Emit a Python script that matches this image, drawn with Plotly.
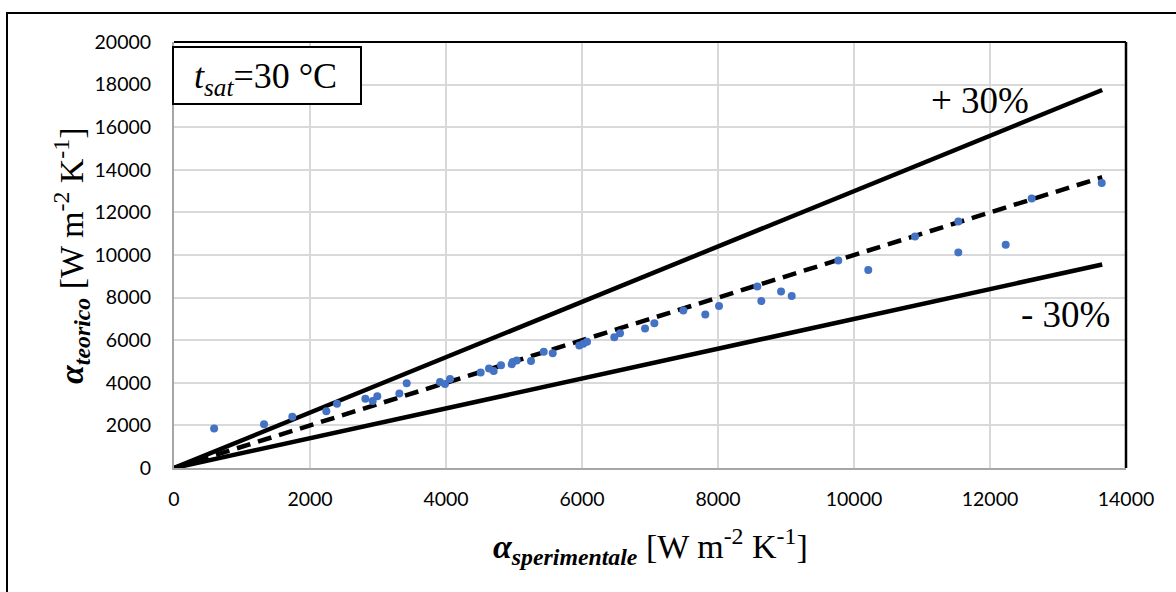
import plotly.graph_objects as go

# Experimental vs. predicted heat transfer coefficient, t_sat = 30 °C
alpha_exp = [590, 1324, 1740, 2240, 2397, 2814, 2922, 2990, 3314, 3422,
             3912, 3985, 4059, 4510, 4632, 4701, 4809, 4966, 4981, 5040,
             5250, 5437, 5569, 5960, 6019, 6074, 6475, 6559, 6927, 7064,
             7490, 7813, 8015, 8578, 8637, 8927, 9084, 9769, 10210, 10897,
             11534, 11534, 12231, 12613, 13643]
alpha_teo = [1850, 2054, 2411, 2664, 3022, 3257, 3149, 3370, 3492, 3980,
             4042, 3948, 4183, 4479, 4667, 4559, 4827, 4874, 4982, 5043,
             5029, 5452, 5391, 5748, 5828, 5922, 6143, 6331, 6547, 6801,
             7393, 7205, 7600, 8521, 7835, 8286, 8070, 9743, 9292, 10871,
             11576, 10119, 10481, 12657, 13381]

# Reference lines: perfect agreement and +/-30 % bands
ref_x = [0, 13650]
band_plus = 1.3
band_minus = 0.7

x_ticks = [0, 2000, 4000, 6000, 8000, 10000, 12000, 14000]
y_ticks = [0, 2000, 4000, 6000, 8000, 10000, 12000, 14000, 16000, 18000, 20000]

serif = "Liberation Serif, Times New Roman, serif"
sans = "Lato, Open Sans, sans-serif"

# plot area in pixels: left 174, right 1126, top 42, bottom 468
PL, PR, PT, PB = 174, 1126, 42, 468
PW, PH = PR - PL, PB - PT


def px_x(p):
    return (p - PL) / PW


def px_y(p):
    return (PB - p) / PH


fig = go.Figure()
fig.add_trace(go.Scatter(x=ref_x, y=[v * band_plus for v in ref_x], mode="lines",
                         line=dict(color="black", width=4.5), showlegend=False))
fig.add_trace(go.Scatter(x=ref_x, y=[v * band_minus for v in ref_x], mode="lines",
                         line=dict(color="black", width=4.5), showlegend=False))
fig.add_trace(go.Scatter(x=ref_x, y=ref_x, mode="lines",
                         line=dict(color="black", width=4.5, dash="14px,8px"), showlegend=False))
fig.add_trace(go.Scatter(x=alpha_exp, y=alpha_teo, mode="markers",
                         marker=dict(color="#4472C4", size=8), showlegend=False))

fig.update_layout(
    width=1176, height=592,
    margin=dict(l=PL, r=1176 - PR, t=PT, b=592 - PB),
    paper_bgcolor="white", plot_bgcolor="white",
    xaxis=dict(range=[0, 14000], tickvals=x_ticks, ticktext=[str(v) for v in x_ticks],
               showgrid=True, gridcolor="#D9D9D9", gridwidth=1.5,
               showline=True, linecolor="#A6A6A6", linewidth=2,
               zeroline=False, ticks="", ticklen=0, ticklabelstandoff=13,
               tickfont=dict(family=sans, size=19.5, color="black")),
    yaxis=dict(range=[0, 20000], tickvals=y_ticks, ticktext=[str(v) for v in y_ticks],
               showgrid=True, gridcolor="#D9D9D9", gridwidth=1.5,
               showline=True, linecolor="#A6A6A6", linewidth=2,
               zeroline=False, ticks="", ticklen=0, ticklabelstandoff=17,
               tickfont=dict(family=sans, size=19.5, color="black")),
    shapes=[
        # plot-area frame (top and right edges)
        dict(type="line", xref="paper", yref="paper", x0=0, x1=1, y0=1, y1=1,
             line=dict(color="black", width=2)),
        dict(type="line", xref="paper", yref="paper", x0=1, x1=1, y0=0, y1=1,
             line=dict(color="black", width=2.5)),
        # outer chart border
        dict(type="rect", xref="paper", yref="paper",
             x0=px_x(7), x1=px_x(1190), y0=px_y(610), y1=px_y(13),
             line=dict(color="black", width=2), layer="above"),
        # label box
        dict(type="rect", xref="paper", yref="paper",
             x0=px_x(173), x1=px_x(361), y0=px_y(104), y1=px_y(47),
             line=dict(color="black", width=2), fillcolor="white", layer="above"),
    ],
    annotations=[
        dict(text="<i>t</i><sub><i>sat</i></sub>=30 °C", xref="paper", yref="paper",
             x=px_x(265), y=px_y(78), xanchor="center", yanchor="middle", showarrow=False,
             font=dict(family=serif, size=36, color="black")),
        dict(text="+ 30%", x=11853, y=17277, xanchor="center", yanchor="middle",
             showarrow=False, font=dict(family=serif, size=37, color="black")),
        dict(text="- 30%", x=13103, y=7230, xanchor="center", yanchor="middle",
             showarrow=False, font=dict(family=serif, size=37, color="black")),
        dict(text="<b><i>α</i></b><sub><b><i>sperimentale</i></b></sub> [W m<sup>-2</sup> K<sup>-1</sup>]",
             xref="paper", yref="paper", x=px_x(650), y=px_y(546),
             xanchor="center", yanchor="middle",
             showarrow=False, font=dict(family=serif, size=34, color="black")),
        dict(text="<b><i>α</i></b><sub><b><i>teorico</i></b></sub> [W m<sup>-2</sup> K<sup>-1</sup>]",
             xref="paper", yref="paper", x=px_x(72), y=px_y(256),
             xanchor="center", yanchor="middle",
             textangle=-90, showarrow=False, font=dict(family=serif, size=34, color="black")),
    ],
)

fig.write_html("out.html")
